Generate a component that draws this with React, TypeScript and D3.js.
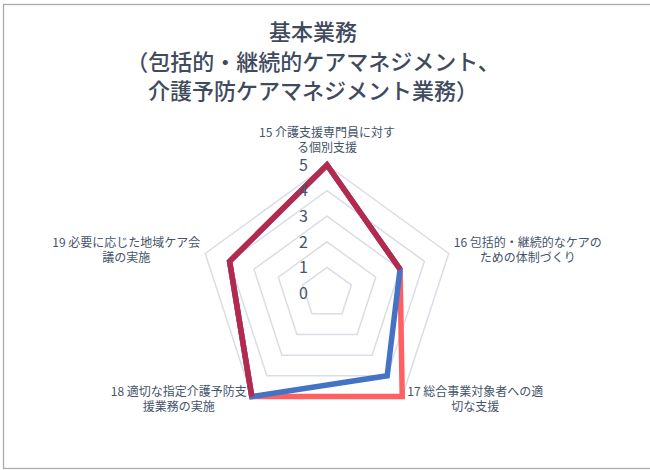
import React, { useEffect, useRef } from 'react';
import * as d3 from 'd3';

const titleLines = ['基本業務', '（包括的・継続的ケアマネジメント、', '介護予防ケアマネジメント業務）'];

const axisLabels = [
  ['15 介護支援専門員に対す', 'る個別支援'],
  ['16 包括的・継続的なケアの', 'ための体制づくり'],
  ['17 総合事業対象者への適', '切な支援'],
  ['18 適切な指定介護予防支', '援業務の実施'],
  ['19 必要に応じた地域ケア会', '議の実施'],
];

const scaleTicks = [0, 1, 2, 3, 4, 5];

// three series, drawn in this order (last on top)
const seriesSalmon = [5, 3, 5, 5, 4];
const seriesBlue = [5, 3, 4, 5, 4];
const seriesCrimson: (number | null)[] = [5, 3, null, 5, 4];

const seriesColors = ['#FF6163', '#4472C4', '#B5294E'];

const W = 650;
const H = 470;
const cx = 327;
const cy = 293;
const R = 128;
const FONT = '"Noto Sans CJK JP", "Noto Sans", sans-serif';

export default function App() {
  const svgRef = useRef<SVGSVGElement>(null);

  useEffect(() => {
    const svg = d3.select(svgRef.current);
    svg.selectAll('*').remove();

    const n = axisLabels.length;
    const r = d3.scaleLinear().domain([0, 5]).range([0, R]);
    const angle = (i: number) => (i * 2 * Math.PI) / n;
    const pt = (i: number, v: number): [number, number] => [
      cx + r(v) * Math.sin(angle(i)),
      cy - r(v) * Math.cos(angle(i)),
    ];

    // frame
    svg.append('rect')
      .attr('x', 3.5).attr('y', 4.5)
      .attr('width', W + 20).attr('height', 464)
      .attr('fill', '#fff')
      .attr('stroke', '#ABABAB')
      .attr('stroke-width', 1.3);

    // title
    svg.append('g').selectAll('text')
      .data(titleLines)
      .enter()
      .append('text')
      .attr('x', 313)
      .attr('y', (d, i) => 40 + i * 29.5)
      .attr('text-anchor', 'middle')
      .attr('font-family', FONT)
      .attr('font-size', 22)
      .attr('font-weight', 500)
      .attr('fill', '#3F4B5D')
      .text(d => d);

    // grid pentagons
    const line = d3.line<[number, number]>();
    svg.append('g').selectAll('path')
      .data(scaleTicks.filter(t => t > 0))
      .enter()
      .append('path')
      .attr('d', t => line(d3.range(n).map(i => pt(i, t))) + 'Z')
      .attr('fill', 'none')
      .attr('stroke', '#D9DDE4')
      .attr('stroke-width', 1.5);

    // series
    const drawSeries = (vals: (number | null)[], color: string) => {
      const gap = vals.findIndex(v => v == null);
      let d = '';
      if (gap < 0) {
        d = (line(d3.range(n).map(i => pt(i, vals[i] as number))) || '') + 'Z';
      } else {
        // start right after the gap so the remaining run stays joined
        const start = (gap + 1) % n;
        const pts = d3.range(n).map(k => (start + k) % n).map(i => ({ i, v: vals[i] }));
        d = d3.line<{ i: number; v: number | null }>()
          .defined(p => p.v != null)
          .x(p => pt(p.i, p.v as number)[0])
          .y(p => pt(p.i, p.v as number)[1])(pts) || '';
      }
      svg.append('path')
        .attr('d', d)
        .attr('fill', 'none')
        .attr('stroke', color)
        .attr('stroke-width', 5.5)
        .attr('stroke-linejoin', 'miter');
    };
    drawSeries(seriesSalmon, seriesColors[0]);
    drawSeries(seriesBlue, seriesColors[1]);
    drawSeries(seriesCrimson, seriesColors[2]);

    // scale numbers
    svg.append('g').selectAll('text')
      .data(scaleTicks)
      .enter()
      .append('text')
      .attr('x', 308)
      .attr('y', t => cy - r(t))
      .attr('dy', '0.36em')
      .attr('text-anchor', 'end')
      .attr('font-family', FONT)
      .attr('font-size', 16)
      .attr('fill', '#44546A')
      .text(t => t);

    // axis labels
    axisLabels.forEach((lines, i) => {
      const [vx, vy] = pt(i, 5);
      const g = svg.append('g');
      const texts = g.selectAll('text')
        .data(lines)
        .enter()
        .append('text')
        .attr('text-anchor', 'middle')
        .attr('font-family', FONT)
        .attr('font-size', 12)
        .attr('fill', '#44546A')
        .text(d => d);
      const widths: number[] = [];
      texts.each(function () { widths.push((this as SVGTextElement).getComputedTextLength()); });
      const w = d3.max(widths) || 0;
      const s = Math.sin(angle(i));
      let x = vx;
      let y0 = vy - 28;
      if (Math.abs(s) > 0.01) {
        x = vx + Math.sign(s) * (5 + w / 2);
        y0 = Math.cos(angle(i)) > 0 ? vy - 6 : vy - 1;
      }
      texts.attr('x', x).attr('y', (d, k) => y0 + k * 15);
    });
  }, []);

  return (
    <svg
      ref={svgRef}
      width={W}
      height={H}
      style={{ position: 'absolute', left: 0, top: 0, background: '#fff' }}
    />
  );
}
